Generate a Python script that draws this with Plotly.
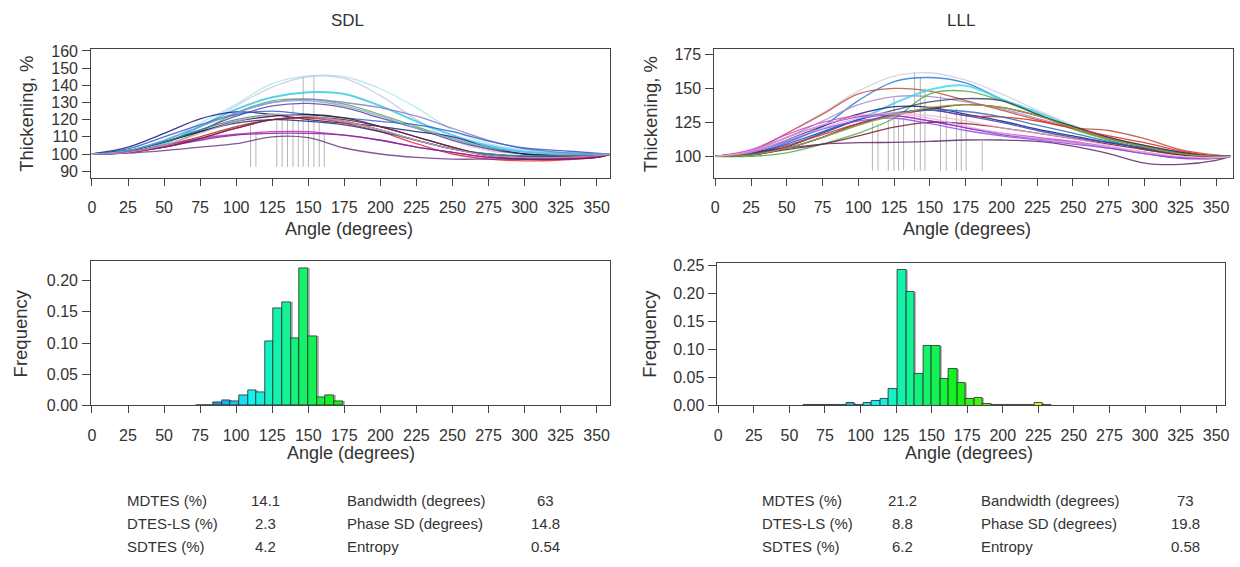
import plotly.graph_objects as go
import colorsys

W, H = 1240, 567

# ---------------- data ----------------
angles = [0, 25, 50, 75, 100, 125, 150, 175, 200, 225, 250, 275, 300, 325, 350, 360]

sdl_curve_colors = ["#9ee3ef", "#c8c0d8", "#3ccbe6", "#6aa84f", "#6b3fa0", "#8c7cc8",
                    "#1b1f6e", "#2f5fd0", "#222222", "#8b3a2a", "#e03030", "#202a80",
                    "#d020c8", "#7a2a9a", "#6e3a8e", "#2f8f8f", "#7b2050", "#e0a0c0", "#70b0e0"]
sdl_curve_values = [
    [100, 101, 107, 118, 129, 141, 145.5, 145, 138, 127, 114, 106, 102.5, 101, 100, 100],
    [100, 101, 106, 116, 128, 139, 145, 144, 134, 120, 108, 102, 100, 100, 100, 100],
    [100, 101, 106, 116, 126, 133, 136, 135, 128, 119, 111, 105, 101.5, 100.5, 100, 100],
    [100, 101, 105, 113, 124, 131, 132, 129, 123, 116, 109, 103, 100, 99.5, 99.5, 100],
    [100, 102, 107, 114, 122, 128, 129.5, 127, 121, 115, 108, 103, 100, 99, 99.5, 100],
    [100, 102, 108, 116, 124, 130, 132, 130, 127, 122, 115, 108, 103, 101, 100, 100],
    [100, 104, 112, 120.5, 124.5, 123, 120, 118, 116, 113, 110, 104, 100, 99, 99, 100],
    [100, 103, 110, 117, 123, 125, 123, 121, 119, 117, 113, 107.5, 103.5, 102, 100.5, 100],
    [100, 102, 107, 113, 119, 122, 123, 121, 116, 110, 104, 99, 98, 98, 99, 100],
    [100, 101, 105, 110, 116, 120, 121, 119, 114, 108, 103, 99, 97, 97, 98, 100],
    [100, 101, 104, 109, 115, 120, 121, 118, 113, 106, 100, 97, 96, 96.5, 98, 100],
    [100, 102, 107, 113, 118, 120, 119, 117, 113, 108, 103, 100, 98.5, 98.5, 99, 100],
    [100, 101, 105, 109, 111.5, 113, 113, 111, 108, 104, 101, 98, 97, 97.5, 98.5, 100],
    [100, 101, 104, 108, 111, 112, 112, 111, 108, 104, 101, 98, 97, 97, 98, 100],
    [100, 100.5, 102, 104, 106, 110, 109.5, 103.5, 100, 98, 97, 97, 97, 98, 99, 100],
    [100, 102, 107, 114, 120, 123, 122, 119, 114, 108, 103, 100, 99, 99, 99.5, 100],
    [100, 101, 104, 109, 115, 120, 121.5, 120, 116, 110, 104, 99, 97, 97, 98, 100],
    [100, 101, 105, 112, 119, 123, 122, 119, 114, 108, 103, 99, 98, 98, 99, 100],
    [100, 102, 108, 116, 124, 130, 131, 128, 122, 115, 109, 104, 101, 100, 100, 100],
]

lll_curve_colors = ["#cfc8e0", "#2a7fd4", "#c0503c", "#a88cc8", "#46d6ee", "#4caf50",
                    "#3e4a5c", "#1a1a7a", "#3a2a2a", "#e02828", "#e040d8", "#8a34c8",
                    "#2848d0", "#3070b0", "#7a1f2e", "#5e2a6a", "#9050e0", "#d8a8e0",
                    "#b0a030", "#f0b0d0"]
lll_curve_values = [
    [100, 104, 117, 132, 148, 159, 161.5, 156, 146, 134, 123, 114, 107, 102, 100, 100],
    [100, 102, 110, 122, 141, 155, 158, 154, 142, 131, 121, 113, 107, 103, 100, 100],
    [100, 104, 117, 131, 146, 150, 148, 141, 134, 127, 121, 119, 113, 105, 101, 100],
    [100, 104, 114, 126, 138, 144, 144, 140, 135, 128, 121, 114, 108, 103, 100, 100],
    [100, 101, 107, 118, 127, 139, 149, 152, 142, 132.5, 122, 113.5, 107.5, 102.5, 100, 100],
    [100, 100, 102.5, 109, 117, 128, 146, 148, 141, 131, 120, 112, 105, 101, 100, 100],
    [100, 102, 107, 117, 127, 134, 140, 142.5, 141, 131, 121, 113, 107, 102, 100, 100],
    [100, 103, 112, 122, 131, 136.5, 136, 131, 126, 120, 115, 110, 106, 102, 100, 100],
    [100, 101, 106, 114, 124, 131, 135, 138, 136, 130, 122, 114, 108, 103, 100, 100],
    [100, 102, 108, 116, 124, 130, 134, 130, 129, 126, 120.5, 115, 110, 104, 100, 100],
    [100, 105, 116, 125, 130, 130, 126, 121, 117, 114, 111, 107, 103, 99.5, 98.5, 100],
    [100, 104, 114, 123, 129, 130, 126, 121, 116, 113, 110, 106, 102, 98.5, 98.5, 100],
    [100, 102, 109, 118, 127, 132, 134, 130, 125, 119, 114, 110, 106, 102, 100, 100],
    [100, 101, 106, 114, 123, 131, 134, 133, 129, 123, 117, 111, 106, 102, 100, 100],
    [100, 101, 105, 109, 115, 121.5, 125, 124, 121, 117, 113, 109, 105, 101, 99, 100],
    [100, 103, 106, 109, 110, 110.3, 111, 112, 112, 111, 107.5, 102, 95, 94, 97, 100],
    [100, 103, 111, 120, 126, 128, 124, 119, 115, 112, 109, 106, 102, 99, 99, 100],
    [100, 103, 112, 121, 128, 131, 128, 122, 117, 113, 110, 107, 103, 100, 99, 100],
    [100, 101, 106, 114, 123, 130, 136, 138, 136, 130, 121, 113, 107, 102, 100, 100],
    [100, 104, 114, 123, 130, 132, 130, 126, 121, 117, 113, 108, 103, 100, 99, 100],
]

# peak markers (vertical grey lines)
sdl_peak_angle = [110, 113.7, 128.2, 131.9, 135.6, 139.4, 143.1, 146.5, 150.2, 153.9, 157.6, 161.1]
sdl_peak_value = [116.5, 111.5, 119, 119.5, 123, 128.5, 119.5, 145.5, 121.5, 145.5, 118, 112]
lll_peak_angle = [109.8, 113.7, 120.9, 124.9, 128.1, 131.6, 139.3, 143.3, 146.5, 157.4, 161.4,
                  168.6, 171.9, 175.3, 186.6]
lll_peak_value = [125, 124, 127, 143, 128, 127, 162, 158, 150, 145, 131, 135, 132, 130, 111]

# histograms: 6-degree bins (start angle of each bin)
sdl_bin_start = [72, 78, 84, 90, 96, 102, 108, 114, 120, 126, 132, 138, 144, 150, 156, 162, 168]
sdl_freq = [0.0008, 0.0008, 0.005, 0.0085, 0.0065, 0.0155, 0.024, 0.021, 0.102, 0.155,
            0.166, 0.107, 0.220, 0.110, 0.013, 0.017, 0.006]
lll_bin_start = [60, 66, 72, 78, 84, 90, 96, 102, 108, 114, 120, 126, 132, 138, 144, 150, 156,
                 162, 168, 174, 180, 186, 192, 198, 204, 210, 216, 222, 228]
lll_freq = [0.0008, 0.0008, 0.0008, 0.0008, 0.0008, 0.005, 0.0008, 0.004, 0.009, 0.012, 0.029,
            0.242, 0.203, 0.057, 0.107, 0.107, 0.047, 0.065, 0.040, 0.012, 0.014, 0.003,
            0.001, 0.0008, 0.0008, 0.0015, 0.0018, 0.004, 0.0008]
bin_width = 6

x_ticks = list(range(0, 351, 25))
sdl_y_ticks = [90, 100, 110, 120, 130, 140, 150, 160]
lll_y_ticks = [100, 125, 150, 175]
sdl_freq_ticks = [0.00, 0.05, 0.10, 0.15, 0.20]
lll_freq_ticks = [0.00, 0.05, 0.10, 0.15, 0.20, 0.25]

stat_labels_left = ["MDTES (%)", "DTES-LS (%)", "SDTES (%)"]
stat_labels_right = ["Bandwidth (degrees)", "Phase SD (degrees)", "Entropy"]
sdl_stats_left = ["14.1", "2.3", "4.2"]
sdl_stats_right = ["63", "14.8", "0.54"]
lll_stats_left = ["21.2", "8.8", "6.2"]
lll_stats_right = ["73", "19.8", "0.58"]

# ---------------- helpers ----------------
FONT = "Liberation Sans, Arial, Helvetica, sans-serif"
TXT = "#333333"


def fx(px):
    return px / W


def fy(py):
    return 1 - py / H


def bar_color(a):
    h = ((290 - a) % 360) / 360.0
    r, g, b = colorsys.hsv_to_rgb(h, 0.92, 0.95)
    return f"rgb({int(r*255)},{int(g*255)},{int(b*255)})"


fig = go.Figure()

# ---- top panels: curves ----
def add_curves(values, colors, xa, ya, peak_a, peak_v, base):
    xs, ys = [], []
    for a, v in zip(peak_a, peak_v):
        xs += [a, a, None]
        ys += [base, v, None]
    fig.add_trace(go.Scatter(x=xs, y=ys, mode="lines", xaxis=xa, yaxis=ya,
                             line=dict(color="rgba(150,150,150,0.7)", width=1),
                             hoverinfo="skip", showlegend=False))
    for vals, col in zip(values, colors):
        light = col in ("#9ee3ef", "#c8c0d8", "#cfc8e0", "#d8a8e0", "#f0b0d0", "#e0a0c0")
        wid = 2.0 if col in ("#3ccbe6", "#46d6ee") else 1.3
        fig.add_trace(go.Scatter(x=angles, y=vals, mode="lines", xaxis=xa, yaxis=ya,
                                 line=dict(color=col, width=wid, shape="spline", smoothing=1.0),
                                 opacity=0.75 if light else 0.85,
                                 showlegend=False, hoverinfo="skip"))


add_curves(sdl_curve_values, sdl_curve_colors, "x", "y", sdl_peak_angle, sdl_peak_value, 92.5)
add_curves(lll_curve_values, lll_curve_colors, "x2", "y2", lll_peak_angle, lll_peak_value, 89.5)

# ---- histograms ----
def add_hist(starts, freqs, xa, ya):
    centers = [s + bin_width / 2 for s in starts]
    fig.add_trace(go.Bar(x=[c + 1.4 for c in centers], y=freqs, width=bin_width,
                         xaxis=xa, yaxis=ya,
                         marker=dict(color="rgba(110,95,120,0.45)", line=dict(width=0)),
                         showlegend=False, hoverinfo="skip"))
    fig.add_trace(go.Bar(x=centers, y=freqs, width=bin_width, xaxis=xa, yaxis=ya,
                         marker=dict(color=[bar_color(c) for c in centers],
                                     line=dict(color="#2a2a2a", width=0.8)),
                         showlegend=False, hoverinfo="skip"))


add_hist(sdl_bin_start, sdl_freq, "x3", "y3")
add_hist(lll_bin_start, lll_freq, "x4", "y4")

# ---------------- axes ----------------
tickfont = dict(family=FONT, size=16, color=TXT)


def xaxis(dom, rng, anchor):
    return dict(domain=[fx(dom[0]), fx(dom[1])], range=rng, anchor=anchor,
                tickmode="array", tickvals=x_ticks, ticks="outside", ticklen=7,
                tickcolor="#444", tickwidth=1, showline=True, mirror=True,
                linecolor="#444", linewidth=1, showgrid=False, zeroline=False,
                tickfont=tickfont, ticklabelstandoff=8, fixedrange=True)


def yaxis(dom, rng, anchor, ticks, fmt=None):
    d = dict(domain=[fy(dom[1]), fy(dom[0])], range=rng, anchor=anchor,
             tickmode="array", tickvals=ticks, ticks="outside", ticklen=8,
             tickcolor="#444", tickwidth=1, showline=True, mirror=True,
             linecolor="#444", linewidth=1, showgrid=False, zeroline=False,
             tickfont=tickfont, ticklabelstandoff=1, fixedrange=True)
    if fmt:
        d["tickformat"] = fmt
    return d


fig.update_layout(
    width=W, height=H,
    margin=dict(l=0, r=0, t=0, b=0),
    paper_bgcolor="white", plot_bgcolor="white",
    barmode="overlay", bargap=0,
    xaxis=xaxis((87.8, 610.5), [-0.55, 359.3], "y"),
    yaxis=yaxis((43.5, 176), [86, 161], "x", sdl_y_ticks),
    xaxis2=xaxis((715.5, 1237.5), [-0.7, 361.5], "y2"),
    yaxis2=yaxis((43.5, 176), [84, 178.8], "x2", lll_y_ticks),
    xaxis3=xaxis((87.8, 610.5), [-0.55, 359.3], "y3"),
    yaxis3=yaxis((261.7, 410), [0, 0.231], "x3", sdl_freq_ticks, ".2f"),
    xaxis4=xaxis((718.7, 1229.6), [-0.55, 356], "y4"),
    yaxis4=yaxis((263.3, 410), [0, 0.254], "x4", lll_freq_ticks, ".2f"),
)

# ---------------- text ----------------
ann = []


def text(x, y, s, size=15, angle=0, xanchor="center"):
    ann.append(dict(x=fx(x), y=fy(y), xref="paper", yref="paper", text=s, showarrow=False,
                    font=dict(family=FONT, size=size, color=TXT), textangle=angle,
                    xanchor=xanchor, yanchor="middle"))


text(346, 14, "SDL", 17)
text(964, 14, "LLL", 17)
text(348, 228, "Angle (degrees)", 18)
text(970, 228, "Angle (degrees)", 18)
text(350, 459, "Angle (degrees)", 18)
text(972, 459, "Angle (degrees)", 18)
text(23, 110, "Thickening, %", 18.5, -90)
text(652, 110, "Thickening, %", 18.5, -90)
text(17, 336, "Frequency", 18.5, -90)
text(650, 336, "Frequency", 18.5, -90)

rows_y = [508, 531.5, 555]
for panel in [(122, 263, 343, 545, sdl_stats_left, sdl_stats_right),
              (762, 905, 982, 1190, lll_stats_left, lll_stats_right)]:
    lx, vx, rx, rvx, lv, rv = panel
    for i, yy in enumerate(rows_y):
        text(lx, yy, stat_labels_left[i], 15, xanchor="left")
        text(vx, yy, lv[i], 15)
        text(rx, yy, stat_labels_right[i], 15, xanchor="left")
        text(rvx, yy, rv[i], 15)

fig.update_layout(annotations=ann)
fig.write_html("out.html", config={"displayModeBar": False},
               post_script="document.body.style.margin='0px';document.body.style.overflow='hidden';")
